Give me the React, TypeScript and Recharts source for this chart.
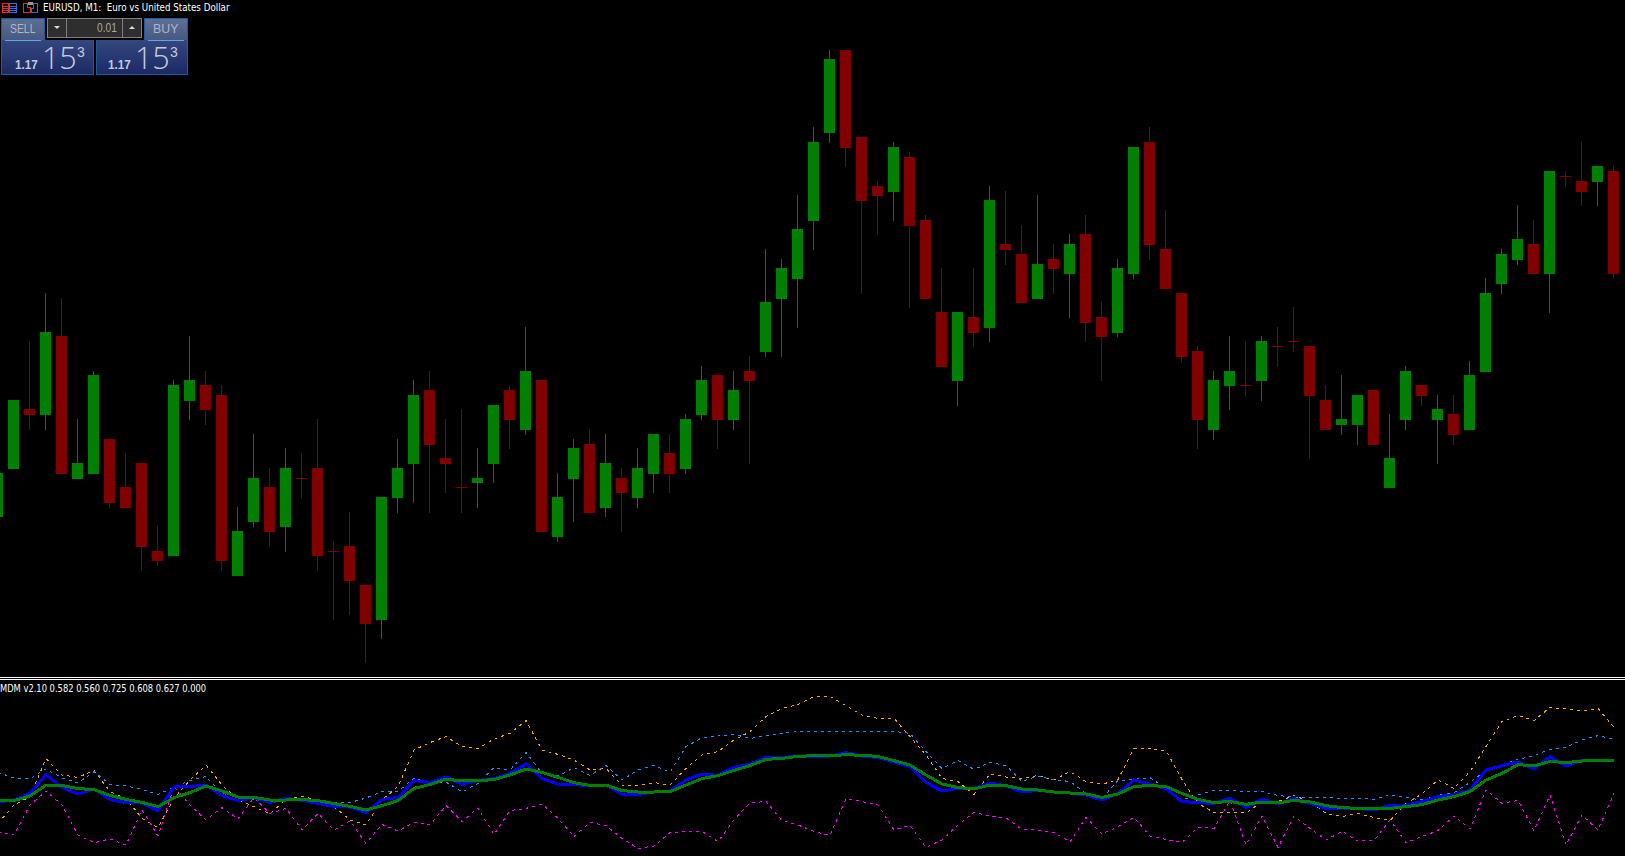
import React from "react";
import { ComposedChart, LineChart, Bar, Line, XAxis, YAxis } from "recharts";

// Prices in points above 1.17000
const opens = [104.4,114,126,124.8,140.6,112,113,120,110.4,115.2,97.6,96.6,127.6,130.8,128.8,92.6,103.4,110.4,102.4,112.2,114.2,97.6,98.6,90.8,83.8,108.2,115,129.8,116.2,110.4,111.2,115,129.8,121.8,131.8,100.4,112,119,106.2,112.2,108.2,113,117.2,114,124.8,132.8,123.8,133.6,137.4,148,152,163.6,181.2,197.8,180.4,170.6,169.4,176.4,163.8,145.4,131.6,144.4,142.2,159,157,148,156,153,161,144.4,141.2,153,179.4,158,149.2,137.6,121.8,130.6,130.8,131.6,138.6,139.6,138.6,127.8,122.8,122.8,129.8,110.2,123.8,130.8,123.8,125,121.8,133.4,151,155.8,159,153,172.6,171.6,171.4,173.6];
const highs = [113.2,127.8,139.6,149.2,148.2,124,133.6,120,117.2,115.2,102.6,131.8,140.6,133.6,130.8,106.4,121,114.2,118.2,117.2,124,99.6,105.4,90.8,108.4,120,131.8,133.6,124,126,118.2,126.8,130.8,142.4,131.8,113.2,120,122,121,114.2,118.2,121,121,125,134.6,132.8,133.6,136.6,158,156,168.8,182.4,197.8,197.8,180.4,171.6,179.4,177.4,164.8,154.2,145.4,154.2,170.6,169.6,162.8,168.8,159,161,164.8,147.4,156,178.4,182.4,165.8,149.2,138.6,133.6,140.6,139.6,140.6,142.4,146.4,138.6,130.8,132.8,128.8,129.8,125,134.6,130.8,128.8,128.8,135.6,152.2,158,166.8,163.8,173.6,173.6,179.4,174.6,174.6];
const lows = [104.4,114,121.8,121.8,113,112,113,106.2,106.2,93.6,94.6,96.6,123.8,122.8,93.6,92.6,102.4,98.4,97.4,108.2,93.6,83.8,84.8,75.2,80,105.2,107.2,105.2,109.2,105.2,106.2,111.2,118,120.8,101.4,99.4,103.4,105.2,104.4,101.4,106.2,109.2,109.2,113,123.8,118,121.8,115,136.4,136.4,142.2,157.8,179.2,174.4,149,160.8,163.6,146.2,148,134.4,126.6,138.4,139.4,154.8,147.2,148,149,144.2,139.4,131.6,140.4,152,155.8,150,135.4,118,119.8,125.8,128.6,127.6,134.4,137.4,116,121.8,120.8,118.8,118.8,110.2,121.8,126.6,115,118.8,121.8,133.4,149,154.8,153,145.2,170.4,166.6,166.6,152];
const closes = [113.2,127.8,124.8,141.4,113,115.2,132.8,107.2,106.2,98.4,95.6,130.8,131.8,125.8,95.6,101.6,112.2,101.4,114.2,112,96.6,97.4,91.6,83,108.4,114.2,128.8,118.8,115,110.2,112.2,126.8,123.8,133.6,101.4,108.4,118.2,105.2,115.2,109.2,114.2,121,113,124,131.8,123.8,129.8,131.6,147.4,154.2,162,179.4,196,178.2,167.6,168.6,178.4,162.6,148,134.4,145.4,141.2,167.8,157.8,147.2,155,154,159,143.2,140.4,154.2,178.4,158.8,150,136.4,123.8,131.8,133.6,130.6,139.6,138.4,139.4,128.6,121.8,124,128.8,118.8,116.2,133.6,128.6,126,120.8,132.8,149.2,157,160,153,173.6,172.4,169.4,174.6,153];

// MDM indicator readings in thousandths
const mdmBlue = [353,363,396,490,425,393,418,365,350,350,310,428,430,438,385,360,375,351,371,361,346,331,328,300,366,376,460,451,478,441,461,470,496,543,471,443,441,433,438,391,391,403,408,463,493,486,526,543,576,576,581,583,583,600,583,575,553,530,451,408,421,420,448,433,403,411,403,398,388,363,396,463,443,420,355,350,346,373,325,368,343,371,346,320,323,321,313,336,338,355,381,388,413,513,535,553,518,580,533,563,563,560];
const mdmGreen = [358,360,383,438,436,420,415,386,366,351,330,375,400,433,408,378,376,363,363,365,360,345,331,313,335,360,421,440,468,458,460,465,488,518,501,476,450,436,438,410,403,403,405,438,470,485,511,535,566,571,581,585,583,590,586,581,560,538,488,443,425,418,438,435,418,413,403,398,393,376,393,430,436,430,396,366,350,356,341,353,348,361,353,335,325,321,318,321,330,340,363,380,405,463,496,540,533,556,550,558,560,560];
const mdmOrange = [246,338,380,570,488,476,511,405,371,271,225,371,463,538,438,363,330,293,366,380,363,330,263,238,363,430,613,650,680,630,621,668,696,760,613,591,563,513,520,438,435,450,438,521,588,605,663,705,780,821,840,880,881,835,788,771,771,680,588,471,455,391,493,478,470,486,463,505,455,441,466,620,620,610,466,346,300,300,298,355,355,385,355,296,280,296,275,260,346,393,463,421,505,630,755,786,760,826,818,808,821,726];
const mdmSky = [501,473,470,518,473,448,505,441,433,416,391,426,461,480,396,380,363,368,360,361,343,353,350,373,405,406,471,450,453,403,446,525,513,601,496,483,525,485,536,463,513,536,501,630,675,683,691,671,683,696,705,706,706,706,706,706,706,696,605,521,560,516,551,535,456,483,463,456,396,371,460,466,475,421,363,388,413,411,405,406,386,376,375,375,371,371,366,388,375,363,386,400,451,510,540,566,585,616,626,663,685,666];
const mdmMagenta = [205,188,338,408,338,188,150,168,138,313,183,430,338,263,325,268,375,296,321,213,296,213,258,146,241,208,251,238,335,255,323,190,310,321,343,271,180,251,235,171,121,133,200,206,206,155,263,350,355,260,238,206,185,370,355,338,213,236,126,163,238,301,283,273,216,213,200,153,276,193,230,276,183,166,150,226,221,360,138,283,126,283,221,163,206,158,160,263,150,180,210,283,218,413,346,361,210,388,138,288,213,396];

const titleText = "EURUSD, M1:  Euro vs United States Dollar";
const legendText = "MDM v2.10 0.582 0.560 0.725 0.608 0.627 0.000";

const candles = opens.map((open, i) => ({ index: i, open, high: highs[i], low: lows[i], close: closes[i] }));
const mdm = mdmBlue.map((blue, i) => ({
  index: i, blue, green: mdmGreen[i], orange: mdmOrange[i], sky: mdmSky[i], magenta: mdmMagenta[i],
}));

const UP = "#008000";
const DOWN = "#800000";

function Candle(props: any) {
  const { x, y, width, height, payload } = props;
  const { open, high, low, close } = payload;
  const ratio = height / (high - low || 1);
  const cx = Math.round(x + width / 2);
  const color = close >= open ? UP : DOWN;
  const top = y + (high - Math.max(open, close)) * ratio;
  const bodyH = Math.max(1, Math.abs(open - close) * ratio);
  return (
    <g shapeRendering="crispEdges">
      <rect x={cx - 1} y={y} width={1} height={height} fill={color} />
      <rect x={cx - 6} y={top} width={11} height={bodyH} fill={color} />
    </g>
  );
}

const sans = "'Liberation Sans', Arial, sans-serif";
const box = (left: number, top: number, width: number, height: number, extra: React.CSSProperties = {}): React.CSSProperties => ({
  position: "absolute", left, top, width, height, boxSizing: "border-box", ...extra,
});
const text = (left: number, top: number, size: number, color: string, sx: number, extra: React.CSSProperties = {}): React.CSSProperties => ({
  position: "absolute", left, top, fontSize: size, lineHeight: 1, color, fontFamily: sans, whiteSpace: "pre",
  transform: `scaleX(${sx})`, transformOrigin: "left", ...extra,
});

function QuoteBlock({ left, width, label, labelLeft, digitsLeft, labelScale }: { left: number; width: number; label: string; labelLeft: number; digitsLeft: number; labelScale: number }) {
  const edge = "1px solid #1c5a9c";
  return (
    <>
      <div style={box(labelLeft, 18, 44, 23, { background: "linear-gradient(#5d6f94,#46587f)", border: edge, borderBottom: "none" })} />
      <div style={box(left, 40, width, 35, { background: "linear-gradient(#35477f,#1a2a66)", border: edge, borderTop: "none" })} />
      <div style={box(labelLeft + 4, 40, 36, 1, { background: "#5aa8e8" })} />
      <div style={text(labelLeft + 9, 22, 13, "#aeb6c9", labelScale)}>{label}</div>
      <div style={text(digitsLeft, 58, 13, "#c4c9d6", 0.9, { fontWeight: 700 })}>1.17</div>
      <div style={text(digitsLeft + 27, 41, 32, "#c8cdd8", 0.95, { fontFamily: "'Open Sans', sans-serif", fontWeight: 300 })}>15</div>
      <div style={text(digitsLeft + 62, 45, 14, "#c8cdd8", 1)}>3</div>
    </>
  );
}

export default function App() {
  return (
    <div style={{ position: "fixed", left: 0, top: 0, width: 1625, height: 856, overflow: "hidden", background: "#000" }}>
      <div style={{ position: "absolute", left: -10.5, top: 0 }}>
        <ComposedChart width={1632} height={677} data={candles} margin={{ top: 0, right: 0, bottom: 0, left: 0 }} barCategoryGap={0}>
          <XAxis dataKey="index" hide />
          <YAxis hide domain={[72.3, 207.85]} />
          <Bar dataKey={(d: any) => [d.low, d.high]} shape={<Candle />} isAnimationActive={false} />
        </ComposedChart>
      </div>

      <div style={{ position: "absolute", left: 0, top: 677, width: 1625, height: 1, background: "#fff" }} />
      <div style={{ position: "absolute", left: 0, top: 679, width: 1625, height: 1, background: "#fff" }} />

      <div style={{ position: "absolute", left: -2.5, top: 690, shapeRendering: "crispEdges" } as React.CSSProperties}>
        <LineChart width={1616} height={166} data={mdm} margin={{ top: 0, right: 0, bottom: 0, left: 0 }}>
          <XAxis dataKey="index" hide />
          <YAxis hide domain={[83, 913]} allowDataOverflow />
          <Line dataKey="orange" stroke="#FFA500" strokeWidth={1} strokeDasharray="3 4" dot={false} isAnimationActive={false} />
          <Line dataKey="sky" stroke="#1E90FF" strokeWidth={1} strokeDasharray="3 4" dot={false} isAnimationActive={false} />
          <Line dataKey="magenta" stroke="#FF00FF" strokeWidth={1} strokeDasharray="3 4" dot={false} isAnimationActive={false} />
          <Line dataKey="blue" stroke="#0000FF" strokeWidth={3} dot={false} isAnimationActive={false} />
          <Line dataKey="green" stroke="#008000" strokeWidth={3} dot={false} isAnimationActive={false} />
        </LineChart>
      </div>

      <div style={text(0, 684, 10, "#fff", 0.834, { fontFamily: "'DejaVu Sans', sans-serif" })}>{legendText}</div>

      {/* terminal header */}
      <svg style={{ position: "absolute", left: 0, top: 0 }} width={42} height={16} shapeRendering="crispEdges">
        <rect x={2.5} y={3.5} width={6} height={9} fill="none" stroke="#e03030" />
        <path d="M3 6h5M3 8h5M3 10h5" stroke="#e03030" />
        <rect x={9.5} y={3.5} width={7} height={9} fill="none" stroke="#2a6fd8" />
        <path d="M10 6h6M10 8h6M10 10h6" stroke="#2a6fd8" />
        <path d="M23.5 12.5v-9h4v4h3v5z" fill="none" stroke="#e03030" />
        <path d="M31.5 12.5v-4h2v-5h4v9z" fill="none" stroke="#2a6fd8" />
        <rect x={28} y={2} width={5} height={3} fill="#999" />
      </svg>
      <div style={text(43, 3, 10, "#fff", 0.873, { fontFamily: "'DejaVu Sans', sans-serif" })}>{titleText}</div>

      {/* one-click trading panel */}
      <QuoteBlock left={1} width={93} label="SELL" labelLeft={1} digitsLeft={15} labelScale={0.8} />
      <QuoteBlock left={96} width={92} label="BUY" labelLeft={144} digitsLeft={108} labelScale={0.95} />
      <div style={box(47, 18, 95, 20, { background: "#2e2e2e", border: "1px solid #808080" })} />
      <div style={box(66, 18, 1, 20, { background: "#808080" })} />
      <div style={box(122, 18, 1, 20, { background: "#808080" })} />
      <svg style={{ position: "absolute", left: 47, top: 18 }} width={95} height={20}>
        <path d="M7 8h6l-3 3z" fill="#ddd" />
        <path d="M82 11h6l-3-3z" fill="#ddd" />
      </svg>
      <div style={text(97, 22, 12, "#a8a8a8", 0.85)}>0.01</div>
    </div>
  );
}
